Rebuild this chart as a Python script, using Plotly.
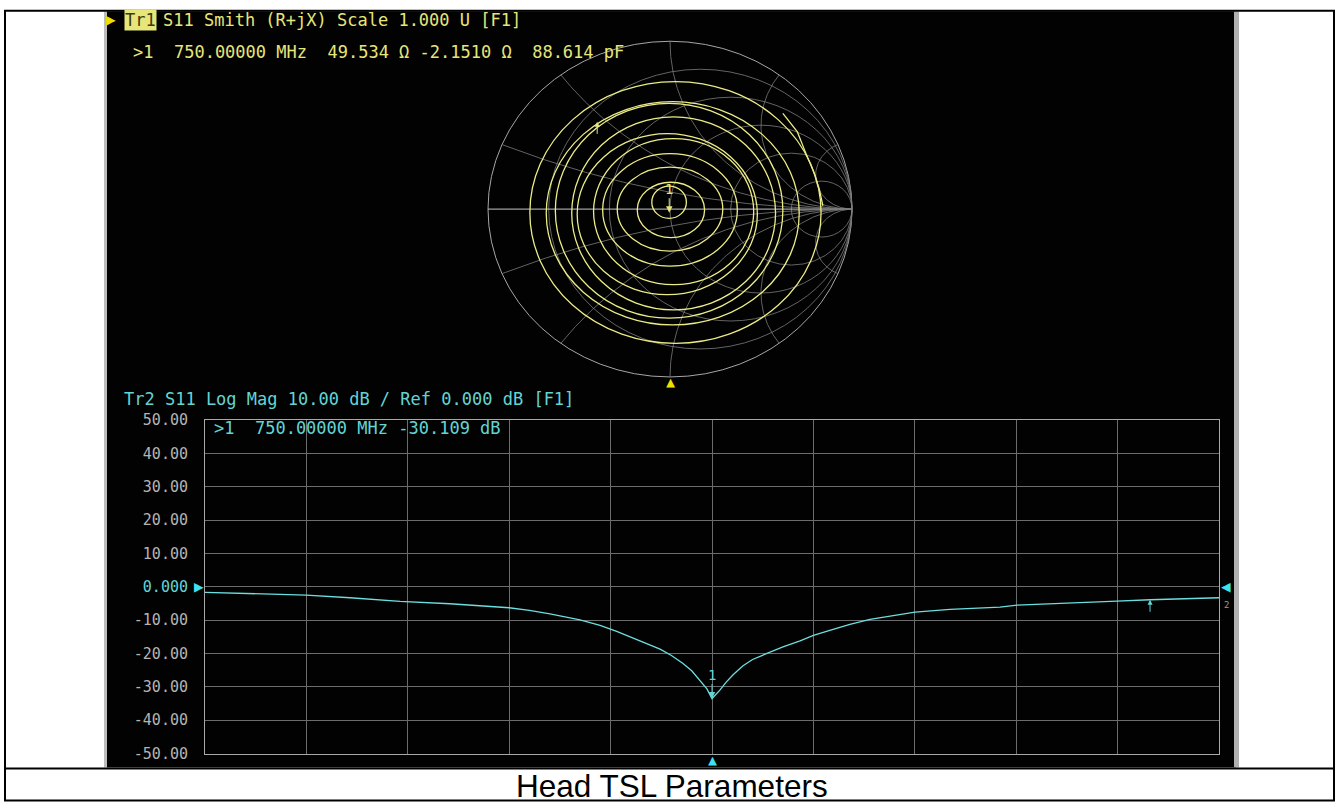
import numpy as np
import plotly.graph_objects as go

W, HF = 1336, 820          # figure size in CSS pixels
Y_SCALE, Y_OFF = 0.979, 7.7  # measured vertical mapping of the photographed page

# ---------------- Tr2: S11 Log Mag data ----------------
freq_mhz = [500, 522.2, 549.8, 571.5, 596.2, 620.8, 649.9, 660.0, 670.1, 684.9, 694.8,
            703.0, 711.0, 718.0, 724.4, 730.0, 735.7, 740.0, 744.1, 747.5, 750.0, 752.0,
            753.9, 757.0, 760.4, 765.3, 770.0, 777.1, 785.0, 793.4,
            800.0, 809.7, 818.0, 827.9, 840.0, 850.1, 867.4, 880.0, 892.0, 900.4, 925.0,
            949.7, 966.0, 985.0, 1000]
s11_db = [-1.7, -2.0, -2.5, -3.3, -4.4, -5.1, -6.3, -7.1, -8.1, -9.9, -11.6,
          -13.4, -15.3, -17.0, -18.7, -20.6, -23.0, -25.2, -28.0, -30.6, -33.5, -32.3,
          -31.0, -28.6, -26.4, -23.7, -21.8, -20.0, -18.0, -16.2,
          -14.6, -12.8, -11.3, -9.8, -8.5, -7.6, -6.8, -6.4, -6.1, -5.5, -4.8,
          -4.3, -3.9, -3.6, -3.3]
ytick_vals = [50, 40, 30, 20, 10, 0, -10, -20, -30, -40, -50]
ytick_labels = ["50.00", "40.00", "30.00", "20.00", "10.00", "0.000",
                "-10.00", "-20.00", "-30.00", "-40.00", "-50.00"]
ref_level_db = 0

marker1_freq = 750.0
marker1_db = -33.5
marker2_freq = 966.0
marker2_db = -3.9

# ---------------- Tr1: Smith chart data (reflection coefficient units) ----------------
ring_left = [-0.77, -0.68, -0.63, -0.54, -0.51, -0.42, -0.37, -0.29, -0.18, -0.10]
ring_right = [0.83, 0.71, 0.62, 0.58, 0.48, 0.46, 0.37, 0.29, 0.19, 0.09]
ring_top = [0.76, 0.64, 0.63, 0.55, 0.45, 0.42, 0.33, 0.25, 0.16, 0.137]
ring_bottom = [-0.80, -0.69, -0.65, -0.60, -0.51, -0.45, -0.34, -0.25, -0.17, -0.055]
tail_re = [0.62, 0.70, 0.74, 0.79, 0.82, 0.84]
tail_im = [0.57, 0.46, 0.35, 0.22, 0.12, 0.02]

marker1_R = 49.534
marker1_X = -2.1510
z0 = 50.0
smith_marker2_re = -0.40
smith_marker2_im = 0.52

smith_r_grid = [0.2, 0.5, 1.0, 2.0, 5.0]
smith_x_grid = [0.2, 0.5, 1.0, 2.0, 5.0]

# ---------------- styling ----------------
YEL = "#e6e67a"
YEL_TR = "#ecec86"
CYAN = "#62d4d4"
CYAN_TR = "#6cdede"
GRID = "#6c6c6c"
FRAME = "#a8a8a8"
TICK = "#b4b4b4"
MONO = "DejaVu Sans Mono"


def px(x):
    return x / W


def py(y):
    # target picture row -> paper fraction
    return 1 - ((y - Y_OFF) / Y_SCALE) / HF


fig = go.Figure()

# Lower log-mag trace
fig.add_trace(go.Scatter(x=freq_mhz, y=s11_db, mode="lines",
                         line=dict(color=CYAN_TR, width=1.3),
                         xaxis="x", yaxis="y", hoverinfo="skip", showlegend=False))

# Smith grid: reactance arcs (structural grid)
r_sweep = np.concatenate([[0.0], np.logspace(-3, 3.5, 400)])
for xv in smith_x_grid:
    for sgn in (1, -1):
        z = r_sweep + 1j * sgn * xv
        g = (z - 1) / (z + 1)
        fig.add_trace(go.Scatter(x=g.real, y=g.imag, mode="lines",
                                 line=dict(color="#7c7c7c", width=0.8),
                                 xaxis="x2", yaxis="y2", hoverinfo="skip", showlegend=False))

# Smith trace tail
fig.add_trace(go.Scatter(x=tail_re, y=tail_im, mode="lines",
                         line=dict(color=YEL_TR, width=1.3),
                         xaxis="x2", yaxis="y2", hoverinfo="skip", showlegend=False))

shapes = []
# table frame and screenshot background
shapes.append(dict(type="rect", xref="paper", yref="paper", x0=px(107), x1=px(1236),
                   y0=py(767), y1=py(10), fillcolor="#020202", line=dict(width=0), layer="below"))
shapes.append(dict(type="rect", xref="paper", yref="paper", x0=px(104), x1=px(107),
                   y0=py(767), y1=py(10), fillcolor="#bdbdbd", line=dict(width=0), layer="below"))
shapes.append(dict(type="rect", xref="paper", yref="paper", x0=px(1234), x1=px(1239),
                   y0=py(767), y1=py(10), fillcolor="#b0b0b0", line=dict(width=0), layer="below"))
shapes.append(dict(type="rect", xref="paper", yref="paper", x0=px(5), x1=px(1334),
                   y0=py(800), y1=py(9.5), line=dict(color="black", width=2), layer="above"))
shapes.append(dict(type="line", xref="paper", yref="paper", x0=px(5), x1=px(1334),
                   y0=py(768), y1=py(768), line=dict(color="black", width=2), layer="above"))

# Smith grid: outer circle, resistance circles, real axis
shapes.append(dict(type="circle", xref="x2", yref="y2", x0=-1, x1=1, y0=-1, y1=1,
                   line=dict(color="#a6a6a6", width=1), layer="below"))
for r in smith_r_grid:
    shapes.append(dict(type="circle", xref="x2", yref="y2",
                       x0=(r - 1) / (r + 1), x1=1, y0=-1 / (1 + r), y1=1 / (1 + r),
                       line=dict(color="#7c7c7c", width=0.8), layer="below"))
shapes.append(dict(type="line", xref="x2", yref="y2", x0=-1, x1=1, y0=0, y1=0,
                   line=dict(color="#c8c8c8", width=1), layer="below"))

# Smith data loops
for l, r, t, b in zip(ring_left, ring_right, ring_top, ring_bottom):
    shapes.append(dict(type="circle", xref="x2", yref="y2", x0=l, x1=r, y0=b, y1=t,
                       line=dict(color=YEL_TR, width=1.3), layer="above"))

annotations = []


def text(x, y, s, color, size=17, family=MONO, xanchor="left", **kw):
    annotations.append(dict(xref="paper", yref="paper", x=px(x), y=py(y), text=s,
                            showarrow=False, xanchor=xanchor, yanchor="middle",
                            font=dict(color=color, size=size, family=family), **kw))


# Tr1 header
text(104, 18, "▶", "#f0e000", size=16)
text(124, 19, "Tr1", "#3a3a10", bgcolor=YEL, borderpad=0)
text(161, 19, "S11 Smith (R+jX) Scale 1.000 U [F1]", YEL)
text(131, 51, ">1  750.00000 MHz  49.534 Ω -2.1510 Ω  88.614 pF", YEL)

# Tr2 header and readout
text(122, 398, "Tr2 S11 Log Mag 10.00 dB / Ref 0.000 dB [F1]", CYAN)
text(212, 427, ">1  750.00000 MHz -30.109 dB", CYAN)

# caption
text(672, 785, "Head TSL Parameters", "black", size=31.5, family="Liberation Sans", xanchor="center")

# Smith marker 1 from impedance readout
zm = complex(marker1_R, marker1_X) / z0
gm = (zm - 1) / (zm + 1)
annotations.append(dict(xref="x2", yref="y2", x=gm.real, y=gm.imag, text="1",
                        showarrow=True, arrowhead=2, arrowsize=1.3, arrowwidth=1,
                        arrowcolor=YEL, ax=0, ay=-24,
                        font=dict(color=YEL, size=14, family=MONO)))
annotations.append(dict(xref="x2", yref="y2", x=smith_marker2_re, y=smith_marker2_im, text=" ",
                        showarrow=True, arrowhead=2, arrowsize=1, arrowwidth=1,
                        arrowcolor=YEL, ax=0, ay=22))
# Smith stimulus triangle
annotations.append(dict(xref="x2", yref="paper", x=0, y=py(381), text="▲", showarrow=False,
                        yanchor="middle", font=dict(color="#f0e000", size=15, family=MONO)))

# Log-mag markers
annotations.append(dict(xref="x", yref="y", x=marker1_freq, y=marker1_db, text="1",
                        showarrow=True, arrowhead=2, arrowsize=1.3, arrowwidth=1,
                        arrowcolor=CYAN, ax=0, ay=-24,
                        font=dict(color=CYAN, size=14, family=MONO)))
annotations.append(dict(xref="x", yref="y", x=marker2_freq, y=marker2_db, text=" ",
                        showarrow=True, arrowhead=2, arrowsize=1, arrowwidth=1,
                        arrowcolor=CYAN, ax=0, ay=22))
# reference level and stimulus triangles
annotations.append(dict(xref="paper", yref="y", x=px(199), y=ref_level_db, text="▶", showarrow=False,
                        xanchor="center", yanchor="middle",
                        font=dict(color="#3fe0f0", size=16, family=MONO)))
annotations.append(dict(xref="paper", yref="y", x=px(1226), y=ref_level_db, text="◀", showarrow=False,
                        xanchor="center", yanchor="middle",
                        font=dict(color="#3fe0f0", size=16, family=MONO)))
annotations.append(dict(xref="paper", yref="paper", x=px(1226), y=py(604), text="2", showarrow=False,
                        xanchor="center", yanchor="middle",
                        font=dict(color="#9a9a9a", size=9, family=MONO)))
annotations.append(dict(xref="x", yref="paper", x=marker1_freq, y=py(759), text="▲", showarrow=False,
                        xanchor="center", yanchor="middle",
                        font=dict(color="#3fe0f0", size=15, family=MONO)))

ticktext = [f"<span style='color:{CYAN}'>{t}</span>" if v == ref_level_db else t
            for v, t in zip(ytick_vals, ytick_labels)]

sx, sy, cx, cy = 182.0, 168.0, 670.0, 208.0
fig.update_layout(
    width=W, height=HF,
    margin=dict(l=0, r=0, t=0, b=0),
    paper_bgcolor="white",
    plot_bgcolor="rgba(0,0,0,0)",
    showlegend=False,
    xaxis=dict(domain=[px(205), px(1219)], range=[500, 1000], tick0=500, dtick=50,
               showgrid=True, gridcolor=GRID, gridwidth=1, showline=True, linecolor=FRAME,
               linewidth=1, mirror=True, showticklabels=False, zeroline=False, ticks="",
               anchor="y", fixedrange=True),
    yaxis=dict(domain=[py(753), py(419)], range=[-50, 50], tickvals=ytick_vals, ticktext=ticktext,
               showgrid=True, gridcolor=GRID, gridwidth=1, showline=True, linecolor=FRAME,
               linewidth=1, mirror=True, zeroline=False, ticks="outside", ticklen=13,
               tickcolor="rgba(0,0,0,0)", tickfont=dict(color=TICK, size=15, family=MONO),
               anchor="x", fixedrange=True),
    xaxis2=dict(domain=[px(cx - 1.1 * sx), px(cx + 1.1 * sx)], range=[-1.1, 1.1], visible=False,
                anchor="y2", fixedrange=True),
    yaxis2=dict(domain=[py(cy + 1.1 * sy), py(cy - 1.1 * sy)], range=[-1.1, 1.1], visible=False,
                anchor="x2", fixedrange=True),
    shapes=shapes,
    annotations=annotations,
)

page_fix = ("var s=document.createElement('style');"
            "s.innerHTML='html,body{margin:0 !important;padding:0 !important;"
            "overflow:hidden !important;}';"
            "document.head.appendChild(s);")
fig.write_html("out.html", config={"displayModeBar": False, "staticPlot": True},
               post_script=page_fix)
